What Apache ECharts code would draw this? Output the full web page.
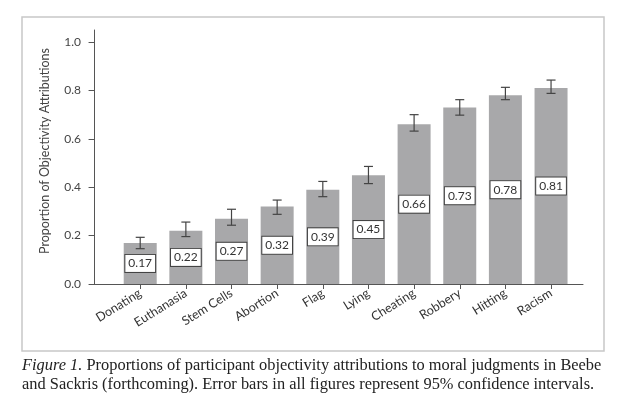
<!DOCTYPE html>
<html><head><meta charset="utf-8">
<script src="https://cdn.jsdelivr.net/npm/echarts@6/dist/echarts.min.js"></script>
<style>html,body{margin:0;padding:0;background:#fff}#c{width:624px;height:412px}</style>
</head><body><div id="c"></div>
<script>
const categories = ['Donating','Euthanasia','Stem Cells','Abortion','Flag','Lying','Cheating','Robbery','Hitting','Racism'];
const proportions = [0.17,0.22,0.27,0.32,0.39,0.45,0.66,0.73,0.78,0.81];
const ciLower = [0.146,0.196,0.243,0.288,0.361,0.415,0.632,0.698,0.762,0.788];
const ciUpper = [0.193,0.256,0.309,0.347,0.424,0.486,0.700,0.762,0.813,0.843];
const yTicks = [0,0.2,0.4,0.6,0.8,1.0];
const positions = categories.map((c,i)=>i+1);

const chart = echarts.init(document.getElementById('c'), null, {renderer:'canvas'});
const axisColor = '#555';
chart.setOption({
  animation:false,
  grid:{left:90,right:41,top:30,bottom:128,containLabel:false},
  xAxis:{type:'value',min:-0.1,max:10.7,
    axisLine:{show:true,lineStyle:{color:axisColor,width:1}},
    splitLine:{show:false},
    axisTick:{show:true,length:5,lineStyle:{color:axisColor},customValues:positions},
    axisLabel:{customValues:positions,rotate:32,margin:8,fontFamily:'Lato',fontSize:12.5,color:'#333',
      formatter:v=>categories[Math.round(v)-1]||''}
  },
  yAxis:{type:'value',min:0,max:1.05,
    name:'Proportion of Objectivity Attributions',nameLocation:'middle',nameGap:27,nameRotate:90,
    nameTextStyle:{fontFamily:'Lato',fontSize:12.5,color:'#444',padding:[0,0,12,12]},
    axisLine:{show:true,lineStyle:{color:axisColor,width:1}},
    splitLine:{show:false},
    axisTick:{show:true,length:6,lineStyle:{color:axisColor},customValues:yTicks},
    axisLabel:{customValues:yTicks,margin:9,fontFamily:'Lato',fontSize:12,color:'#444',formatter:v=>v.toFixed(1)}
  },
  series:[
    {type:'bar',barWidth:33,data:proportions.map((v,i)=>[positions[i],v]),
     itemStyle:{color:'#a8a8aa'},
     label:{show:true,position:'inside',formatter:p=>p.value[1].toFixed(2),
       backgroundColor:'#fff',borderColor:'#444',borderWidth:1,padding:[3,3,2,3],
       fontFamily:'Lato',fontSize:12,color:'#333'}},
    {type:'custom',data:positions.map((x,i)=>[x,ciLower[i],ciUpper[i]]),z:5,
     renderItem:(params,api)=>{
       const lo=api.coord([api.value(0),api.value(1)]);
       const hi=api.coord([api.value(0),api.value(2)]);
       const w=4.5;const st={stroke:'#444',lineWidth:1.2};
       return {type:'group',children:[
         {type:'line',shape:{x1:lo[0],y1:lo[1],x2:hi[0],y2:hi[1]},style:st},
         {type:'line',shape:{x1:lo[0]-w,y1:lo[1],x2:lo[0]+w,y2:lo[1]},style:st},
         {type:'line',shape:{x1:hi[0]-w,y1:hi[1],x2:hi[0]+w,y2:hi[1]},style:st}
       ]};
     }}
  ],
  graphic:[
    {type:'rect',shape:{x:22,y:17,width:582,height:334},style:{fill:null,stroke:'#c8c8c8',lineWidth:1.5},silent:true},
    {type:'text',left:22,top:358,style:{text:'{i|Figure 1.} Proportions of participant objectivity attributions to moral judgments in Beebe',
      rich:{i:{fontStyle:'italic',fontFamily:'Liberation Serif',fontSize:16.4,fill:'#222'}},
      fontFamily:'Liberation Serif',fontSize:16.4,fill:'#222'}},
    {type:'text',left:22,top:377,style:{text:'and Sackris (forthcoming). Error bars in all figures represent 95% confidence intervals.',
      fontFamily:'Liberation Serif',fontSize:16.4,fill:'#222'}}
  ]
});
</script></body></html>
